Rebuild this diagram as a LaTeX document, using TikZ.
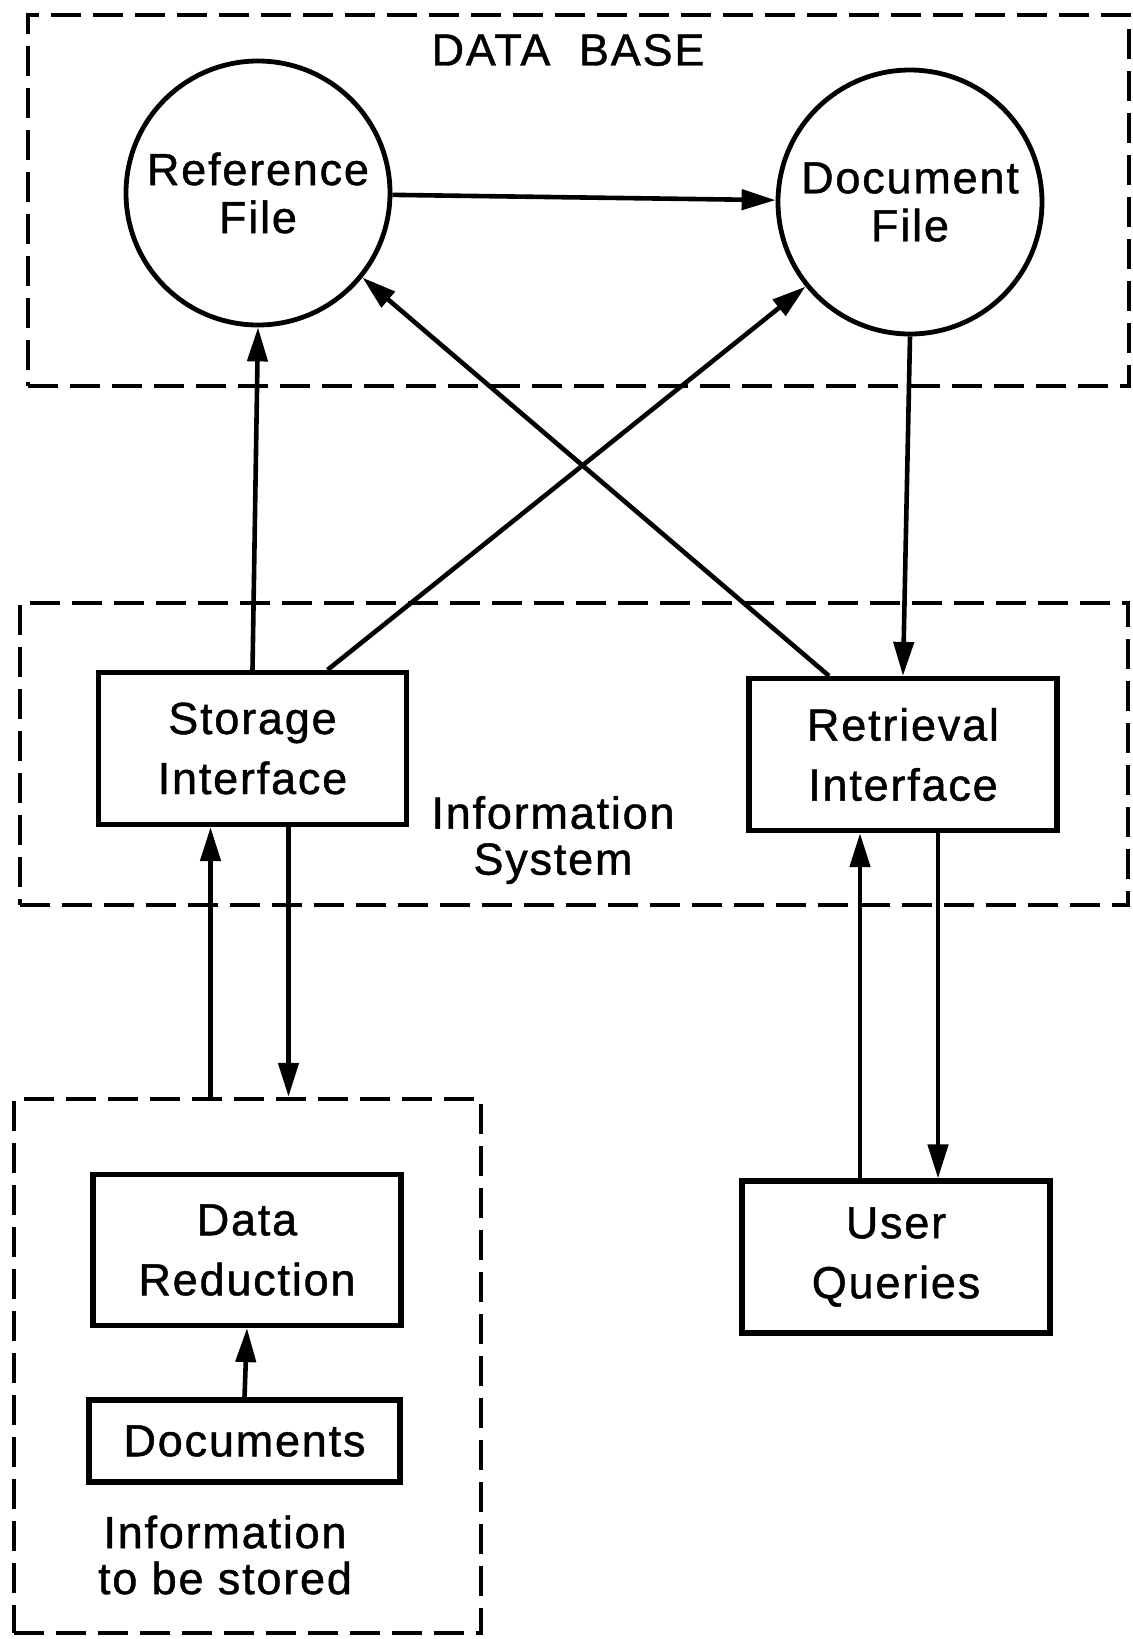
\documentclass[tikz,border=0pt]{standalone}
\usepackage{fontspec}
\setmainfont{Liberation Sans}[LetterSpace=4,FakeBold=1]
\usetikzlibrary{arrows.meta,calc}

\begin{document}
\begin{tikzpicture}[x=0.5pt,y=-0.5pt,
	box/.style={draw,line width=2.6pt,rectangle,minimum width=154pt,minimum height=76pt,align=center,font=\fontsize{22.5}{30}\selectfont},
	file/.style={draw,line width=2.4pt,circle,minimum size=132pt,align=center,font=\fontsize{22.5}{24}\selectfont},
	area/.style={draw,line width=2.2pt,dash pattern=on 15pt off 6pt,rectangle,inner sep=0pt},
	txt/.style={align=center,font=\fontsize{22.5}{23}\selectfont},
	arr/.style={line width=2.3pt,-{Triangle[length=17pt,width=10pt]}}]
\useasboundingbox (0,0) rectangle (1132,1639);
\node[area,minimum width=550.5pt,minimum height=185.5pt] (db) at (578.5,200.5) {};
\node[area,minimum width=554pt,minimum height=151pt] (is) at (574,754) {};
\node[area,minimum width=233.5pt,minimum height=267pt] (ib) at (247.5,1366) {};
\node[txt] (dbt) at (568,50) {DATA~~BASE};
\node[txt] (ist) at (553,840) {Information\\System};
\node[txt] (ibt) at (225,1555) {Information\\to be stored};
\node[file] (ref) at (258,193) {Reference\\File};
\node[file] (doc) at (910,202) {Document\\File};
\node[box] (si) at (252.5,748.5) {Storage\\Interface};
\node[box] (ri) at (903,754.5) {Retrieval\\Interface};
\node[box,minimum height=75.5pt] (dr) at (247,1250) {Data\\Reduction};
\node[box,minimum width=155.5pt,minimum height=41pt] (docs) at (244.5,1441) {Documents};
\node[box] (uq) at (896,1257) {User\\Queries};
\draw[arr] (ref) -- (doc);
\draw[arr] (si.north) -- (ref.south);
\draw[arr] ($(si.north)+(75,0)$) -- (doc.219);
\draw[arr] ($(ri.north)+(-74,0)$) -- (ref.321);
\draw[arr] (doc.south) -- (ri.north);
\coordinate (su) at ($(si.south)+(-42,0)$);
\coordinate (sd) at ($(si.south)+(36,0)$);
\coordinate (ru) at ($(ri.south)+(-43,0)$);
\coordinate (rd) at ($(ri.south)+(35,0)$);
\draw[arr] (su |- ib.north) -- (su);
\draw[arr] (sd) -- (sd |- ib.north);
\draw[arr] (ru |- uq.north) -- (ru);
\draw[arr] (rd) -- (rd |- uq.north);
\draw[arr] (docs.north) -- (dr.south);
\end{tikzpicture}
\end{document}
